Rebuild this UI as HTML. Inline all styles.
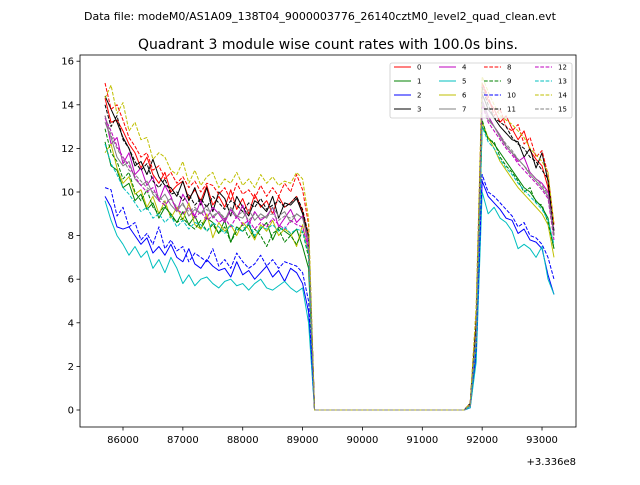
<!DOCTYPE html>
<html><head><meta charset="utf-8"><style>
body{margin:0;background:#fff;font-family:"Liberation Sans","DejaVu Sans",sans-serif}
svg text{font-family:"DejaVu Sans","Liberation Sans",sans-serif}
</style></head><body>
<svg id="chart" width="640" height="480" xmlns="http://www.w3.org/2000/svg">
<text x="320" y="20" font-size="11" text-anchor="middle">Data file: modeM0/AS1A09_138T04_9000003776_26140cztM0_level2_quad_clean.evt</text>
<text x="328" y="49" font-size="14" text-anchor="middle">Quadrant 3 module wise count rates with 100.0s bins.</text>
<g id="marks"></g>
<g id="axes"></g>
<g id="legend"></g>
</svg>
<script>
const tStart = 85700;
const tStep = 100;
const quiet = [0,0,0,0,0,0,0,0,0,0,0,0,0,0,0,0,0,0,0,0,0,0,0,0,0,0];
const xTicks = [86000,87000,88000,89000,90000,91000,92000,93000];
const yTicks = [0,2,4,6,8,10,12,14,16];
const labels = ["0","1","2","3","4","5","6","7","8","9","10","11","12","13","14","15"];
const s0=[14.3,13.2,13.3,12.8,12.2,11.8,11.1,11.6,10.8,10.4,10.9,10.0,10.3,10.5,9.7,10.1,9.6,10.3,9.4,9.8,9.3,10.1,9.2,9.7,9.0,9.9,9.3,9.6,9.0,9.8,9.3,9.5,9.8,9.1,8.0,...quiet,0.3,4,15,14.2,13.8,13.2,13.5,12.9,12.4,12.8,11.9,11.5,11.2,10.2,8.0];
const s1=[12.3,11.2,11.0,10.2,10.4,9.6,9.9,9.2,9.5,8.8,9.3,9.0,8.6,9.1,8.5,8.9,8.3,8.8,8.6,8.1,8.7,7.7,8.4,8.2,8.5,7.9,8.3,8.6,7.8,8.4,8.2,8.0,8.3,7.5,6.5,...quiet,0.2,3,13,12.5,12.2,11.8,11.4,11.0,10.6,10.2,10.0,9.6,9.3,8.8,7.4];
const s2=[9.8,9.3,8.4,8.3,8.4,8.0,7.6,7.9,7.2,7.5,7.1,7.6,7.0,6.8,7.4,6.7,6.5,6.9,6.6,6.4,6.5,6.1,6.8,6.2,6.4,6.0,6.3,6.6,6.1,6.4,5.9,6.5,6.3,5.8,4.5,...quiet,0.1,2.5,10.5,9.8,9.5,9.2,8.8,8.7,8.1,8.3,7.8,7.7,7.4,6.2,5.3];
const s3=[14.4,13.8,13.2,12.5,12.0,11.2,11.4,10.8,11.5,10.7,10.3,10.2,9.8,10.5,9.6,10.2,9.4,10.2,9.1,10.0,9.7,8.9,9.8,9.3,8.9,9.6,9.4,9.1,9.8,8.8,9.5,9.4,9.7,9.0,7.8,...quiet,0.3,4,14.5,13.8,13.4,13.0,12.7,12.4,12.3,11.6,12.0,11.1,11.8,10.5,8.0];
const s4=[13.5,12.2,12.5,11.3,11.8,10.8,11.1,10.3,10.7,9.6,10.3,9.8,9.1,9.9,9.4,8.9,9.6,8.8,9.3,9.0,8.6,9.2,8.8,9.4,8.5,9.1,8.7,8.9,9.3,8.4,8.8,9.2,8.6,8.9,7.5,...quiet,0.2,3.5,14.2,13.5,13.0,12.6,12.1,11.8,11.4,11.6,10.9,10.6,10.4,10.0,8.2];
const s5=[9.6,8.7,8.0,7.6,7.1,7.5,7.0,7.3,6.5,6.9,6.3,7.0,6.5,5.8,6.2,5.7,6.0,6.1,5.8,5.6,5.9,6.0,5.7,5.8,5.5,5.8,6.0,5.6,5.5,5.7,5.9,5.6,5.4,5.6,4.0,...quiet,0.1,2.2,10,9.0,9.3,8.8,8.6,8.2,7.4,7.6,7.4,7.0,7.5,6.0,5.3];
const s6=[11.8,12.2,11.1,10.4,10.7,9.9,10.1,9.3,9.8,9.0,9.6,8.8,9.3,8.7,9.5,8.5,8.3,9.0,7.9,8.6,8.2,8.5,8.0,8.6,8.3,7.8,8.5,8.2,8.7,8.0,8.3,8.1,7.5,8.5,7.2,...quiet,0.2,3,13.2,12.5,12.0,11.4,11.0,10.6,10.2,9.9,9.6,9.3,9.0,8.5,7.0];
const s7=[13.2,12.5,11.6,11.2,11.4,10.6,10.3,10.5,9.9,9.6,9.9,9.4,9.1,9.5,8.9,9.2,9.0,9.4,8.8,9.1,8.7,9.3,8.9,8.8,9.2,8.7,9.0,8.8,9.3,8.9,9.1,8.6,9.0,8.8,7.8,...quiet,0.2,3.5,14.1,13.3,13.0,12.5,12.1,11.8,11.5,11.2,10.8,10.5,10.2,9.8,8.0];
const s8=[15.0,13.8,14.0,13.3,12.5,12.1,11.6,11.8,11.0,11.2,10.6,10.9,10.4,10.7,10.2,10.5,10.0,10.4,10.3,9.9,10.2,9.6,10.4,9.9,10.1,9.7,10.3,9.8,10.2,9.8,10.4,10.0,10.8,10.1,8.5,...quiet,0.3,4.5,15.0,14.4,13.5,13.8,13.0,12.8,13.1,12.2,12.5,11.6,11.9,10.8,8.5];
const s9=[12.9,11.8,11.4,10.6,10.9,10.0,9.6,10.1,9.3,9.0,9.4,8.9,8.6,8.8,8.5,8.3,8.7,8.2,8.5,8.1,8.4,7.7,8.2,8.5,7.9,8.3,8.0,7.5,8.1,8.3,7.7,8.0,7.6,8.2,7.0,...quiet,0.2,3,13.3,12.4,12.3,11.6,11.2,10.9,10.5,10.0,10.2,9.5,9.4,8.6,7.4];
const s10=[10.2,10.1,8.9,9.3,8.4,8.6,7.8,8.1,7.6,8.4,7.4,7.8,7.3,7.5,6.8,7.2,7.0,6.8,7.4,6.6,6.9,6.5,7.2,6.8,6.5,6.7,7.1,6.6,6.9,6.5,6.8,6.7,6.6,6.3,5.0,...quiet,0.2,2.8,10.8,10.0,9.8,9.5,9.2,8.9,8.4,8.6,8.0,7.9,7.6,7.0,6.0];
const s11=[14.0,13.0,13.5,12.4,12.0,11.4,11.0,11.3,10.5,10.2,10.6,9.9,10.0,9.6,9.9,9.4,9.7,9.3,9.8,9.5,9.2,9.6,9.4,9.1,9.5,9.3,9.7,9.2,9.4,9.6,9.3,9.5,9.8,9.2,8.0,...quiet,0.3,4,14.8,14.0,13.4,13.2,13.0,12.5,12.2,12.0,11.6,11.4,11.0,10.6,8.2];
const s12=[13.4,12.8,12.1,11.6,11.2,10.7,10.3,10.0,10.2,9.6,9.4,9.7,9.2,9.0,9.3,8.8,9.1,8.7,8.9,8.6,8.8,8.4,8.9,8.5,8.7,8.3,8.6,8.4,8.8,8.5,8.3,8.7,8.5,8.4,7.4,...quiet,0.2,3.4,14.0,13.2,12.8,12.4,12.0,11.7,11.3,11.0,10.7,10.4,10.1,9.7,7.8];
const s13=[12.2,11.3,10.8,10.2,9.9,9.5,9.1,9.3,8.8,9.0,8.6,8.9,8.4,8.7,8.3,8.6,8.5,8.2,8.6,8.4,8.1,8.5,8.3,8.2,8.6,8.0,8.4,8.3,8.5,8.2,8.4,8.1,8.3,8.2,7.2,...quiet,0.2,3.2,13.0,12.3,12.0,11.5,11.1,10.8,10.4,10.1,9.8,9.5,9.2,8.7,7.6];
const s14=[14.3,14.9,13.6,14.1,12.8,13.2,12.4,12.5,11.5,11.8,11.6,11.0,10.8,11.4,10.4,11.0,10.3,10.7,10.9,10.2,10.6,10.4,10.9,10.3,10.6,10.2,10.8,10.4,10.7,10.3,10.5,10.4,10.9,10.6,8.8,...quiet,0.3,4.8,15.3,14.6,14.0,13.5,13.3,13.1,12.8,12.5,12.0,11.7,11.4,10.9,8.5];
const s15=[13.5,12.6,12.0,11.5,11.0,10.8,10.5,10.2,10.0,9.8,9.5,9.7,9.3,9.4,9.1,9.3,9.0,9.2,8.9,9.1,8.8,9.0,8.9,9.1,8.7,9.0,8.8,8.9,9.0,8.7,8.9,8.8,9.0,8.8,7.8,...quiet,0.2,3.6,14.2,13.4,13.0,12.6,12.2,11.9,11.5,11.2,10.9,10.6,10.3,9.9,8.0];

const series=[s0,s1,s2,s3,s4,s5,s6,s7,s8,s9,s10,s11,s12,s13,s14,s15];
const colors=["#ff0000","#008000","#0000ff","#000000","#bf00bf","#00bfbf","#bfbf00","#808080"];
const NS="http://www.w3.org/2000/svg";
const L=80,R=576,T=55,B=427;
function xs(t){return 123+(t-86000)*0.05986;}
function ys(v){return 410-v*21.8;}
function mk(tag,attrs,parent){const e=document.createElementNS(NS,tag);for(const k in attrs)e.setAttribute(k,attrs[k]);parent.appendChild(e);return e;}
const marks=document.getElementById('marks'),axes=document.getElementById('axes'),leg=document.getElementById('legend');
series.forEach((s,i)=>{
  const pts=s.map((v,j)=>xs(tStart+j*tStep).toFixed(2)+","+ys(v).toFixed(2)).join(" ");
  const p=mk('polyline',{points:pts,fill:"none",stroke:colors[i%8],"stroke-width":1,"stroke-linejoin":"round"},marks);
  if(i>=8)p.setAttribute('stroke-dasharray','3.7,1.6');
  
  
});
const fr=mk('rect',{x:L,y:T,width:R-L,height:B-T,fill:"none",stroke:"#000","stroke-width":0.8},axes);


xTicks.forEach(t=>{
  const x=xs(t);
  const tk=mk('line',{x1:x,x2:x,y1:B,y2:B+3.5,stroke:"#000","stroke-width":0.8},axes);
  
  
  const tx=mk('text',{x:x,y:B+16,"font-size":10,"text-anchor":"middle"},axes);tx.textContent=t;
  
  
});
yTicks.forEach(v=>{
  const y=ys(v);
  const tk=mk('line',{x1:L-3.5,x2:L,y1:y,y2:y,stroke:"#000","stroke-width":0.8},axes);
  
  
  const tx=mk('text',{x:L-6,y:y+3.5,"font-size":10,"text-anchor":"end"},axes);tx.textContent=v;
  
  
});
const off=mk('text',{x:R,y:465,"font-size":10,"text-anchor":"end"},axes);off.textContent="+3.336e8";


const lb=mk('rect',{x:390,y:63,width:182,height:55,fill:"#fff","fill-opacity":0.8,stroke:"#ccc","stroke-width":0.8,rx:2},leg);


const colX=[394,439,484,535],rowY=[67,81,95,109];
labels.forEach((lab,i)=>{
  const c=Math.floor(i/4),r=i%4,x=colX[c],y=rowY[r];
  const g=mk('g',{},leg);
  
  
  const ln=mk('line',{x1:x,x2:x+17,y1:y,y2:y,stroke:colors[i%8],"stroke-width":1},g);
  if(i>=8)ln.setAttribute('stroke-dasharray','3.7,1.6');
  const t=mk('text',{x:x+23,y:y+2.5,"font-size":7},g);t.textContent=lab;
});
</script>
</body></html>
